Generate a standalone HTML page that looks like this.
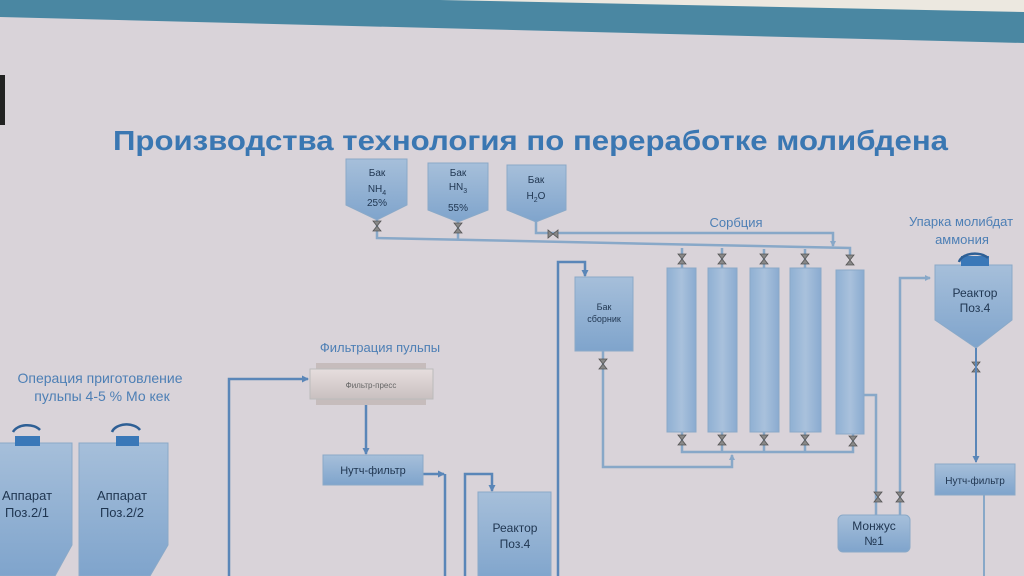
<!DOCTYPE html>
<html><head><meta charset="utf-8"><style>
html,body{margin:0;padding:0;background:#d9d3d9;}
svg{display:block;font-family:"Liberation Sans",sans-serif;}
</style></head><body>
<svg width="1024" height="576" viewBox="0 0 1024 576" xmlns="http://www.w3.org/2000/svg">
<defs>
<linearGradient id="g" x1="0" y1="0" x2="0" y2="1"><stop offset="0" stop-color="#a6bfda"/><stop offset="1" stop-color="#7fa4cc"/></linearGradient>
<linearGradient id="gh" x1="0" y1="0" x2="1" y2="0"><stop offset="0" stop-color="#8fb0d3"/><stop offset="0.5" stop-color="#a9c1dc"/><stop offset="1" stop-color="#8aabd0"/></linearGradient>
<linearGradient id="fp" x1="0" y1="0" x2="0" y2="1"><stop offset="0" stop-color="#e6dede"/><stop offset="1" stop-color="#c9c0c0"/></linearGradient>
<marker id="a" markerUnits="userSpaceOnUse" markerWidth="7" markerHeight="7" refX="6" refY="3.5" orient="auto"><path d="M0,0L7,3.5L0,7z" fill="#5a86b8"/></marker>
<marker id="b" markerUnits="userSpaceOnUse" markerWidth="6" markerHeight="6" refX="5" refY="3" orient="auto"><path d="M0,0L6,3L0,6z" fill="#88a8c8"/></marker>
<g id="v"><path d="M-4,-5L4,-5L-4,5L4,5z" fill="#888" stroke="#555" stroke-width="0.8"/></g>
<g id="vh"><path d="M-5,-4L-5,4L5,-4L5,4z" fill="#888" stroke="#555" stroke-width="0.8"/></g>
</defs>
<rect width="1024" height="576" fill="#d9d3d9"/>
<polygon points="440,0 1024,0 1024,12 440,4" fill="#ece8e0"/>
<polygon points="0,0 440,0 1024,12 1024,43 0,17" fill="#4a87a2"/>
<rect x="0" y="75" width="5" height="50" fill="#222"/>
<text x="113" y="150" font-size="28" font-weight="bold" fill="#3a77b2" textLength="835" lengthAdjust="spacingAndGlyphs">Производства  технология по переработке молибдена</text>

<!-- top tanks -->
<g fill="url(#g)" stroke="#8aa9c8">
<path d="M346,159H407V205L377,220L346,205z"/>
<path d="M428,163H488V210L458,222L428,210z"/>
<path d="M507,165H566V210L536,222L507,210z"/>
</g>
<g font-size="10" fill="#1f3550" text-anchor="middle">
<text x="377" y="176">Бак</text><text x="377" y="192">NH<tspan font-size="7" dy="3">4</tspan></text><text x="377" y="206">25%</text>
<text x="458" y="176">Бак</text><text x="458" y="190">HN<tspan font-size="7" dy="3">3</tspan></text><text x="458" y="211">55%</text>
<text x="536" y="183">Бак</text><text x="536" y="199">H<tspan font-size="7" dy="3">2</tspan><tspan dy="-3">O</tspan></text>
</g>
<g stroke="#88a8c8" stroke-width="2.5" fill="none">
<path d="M377,220V238L850,248V258"/>
<path d="M458,222V240"/>
<path d="M536,222V233H833V246" marker-end="url(#b)"/>
<path d="M682,248V268M722,248V268M764,249V268M805,249V268"/>
<path d="M682,432V452H853V432M722,432V452M764,432V452M805,432V452"/>
<path d="M603,351V467H732V455" marker-end="url(#b)"/>
<path d="M864,395H876V515"/>
<path d="M900,515V278H930" marker-end="url(#b)"/>
</g>
<use href="#v" x="377" y="226"/><use href="#v" x="458" y="228"/><use href="#vh" x="553" y="234"/>
<text x="736" y="227" font-size="13" fill="#4d7fb5" text-anchor="middle">Сорбция</text>
<!-- columns -->
<g fill="url(#gh)" stroke="#8aa9c8">
<rect x="667" y="268" width="29" height="164"/><rect x="708" y="268" width="29" height="164"/>
<rect x="750" y="268" width="29" height="164"/><rect x="790" y="268" width="31" height="164"/>
<rect x="836" y="270" width="28" height="164"/>
</g>
<g><use href="#v" x="682" y="259"/><use href="#v" x="722" y="259"/><use href="#v" x="764" y="259"/><use href="#v" x="805" y="259"/><use href="#v" x="850" y="260"/>
<use href="#v" x="682" y="440"/><use href="#v" x="722" y="440"/><use href="#v" x="764" y="440"/><use href="#v" x="805" y="440"/><use href="#v" x="853" y="441"/>
<use href="#v" x="603" y="364"/><use href="#v" x="878" y="497"/><use href="#v" x="900" y="497"/><use href="#v" x="976" y="367"/></g>
<!-- Бак сборник -->
<rect x="575" y="277" width="58" height="74" fill="url(#g)" stroke="#8aa9c8"/>
<text x="604" y="310" font-size="9" fill="#1f3550" text-anchor="middle">Бак</text>
<text x="604" y="322" font-size="9" fill="#1f3550" text-anchor="middle">сборник</text>
<!-- Монжус -->
<rect x="838" y="515" width="72" height="37" rx="5" fill="url(#g)" stroke="#8aa9c8"/>
<text x="874" y="530" font-size="12" fill="#1f3550" text-anchor="middle">Монжус</text>
<text x="874" y="545" font-size="12" fill="#1f3550" text-anchor="middle">№1</text>
<!-- right reactor -->
<text x="961" y="226" font-size="13" fill="#4d7fb5" text-anchor="middle">Упарка молибдат</text>
<text x="962" y="244" font-size="13" fill="#4d7fb5" text-anchor="middle">аммония</text>
<path d="M935,265H1012V320L976,348L935,320z" fill="url(#g)" stroke="#8aa9c8"/>
<rect x="961" y="256" width="28" height="10" fill="#3a78b8"/>
<path d="M959,262A16,10 0 0 1 988,258" stroke="#2e5f95" stroke-width="2.5" fill="none"/>
<text x="975" y="297" font-size="12" fill="#1f3550" text-anchor="middle">Реактор</text>
<text x="975" y="312" font-size="12" fill="#1f3550" text-anchor="middle">Поз.4</text>
<path d="M976,348V462" stroke="#5a86b8" stroke-width="2" marker-end="url(#a)"/>
<rect x="935" y="464" width="80" height="31" fill="url(#g)" stroke="#8aa9c8"/>
<text x="975" y="484" font-size="10" fill="#1f3550" text-anchor="middle">Нутч-фильтр</text>
<path d="M984,495V576" stroke="#88a8c8" stroke-width="2"/>
<!-- left blue pipes -->
<g stroke="#5a86b8" stroke-width="2.5" fill="none">
<path d="M229,576V379H308" marker-end="url(#a)"/>
<path d="M366,400V454" marker-end="url(#a)"/>
<path d="M423,474H444" marker-end="url(#a)"/><path d="M445,474V576"/>
<path d="M465,576V474H492V491" marker-end="url(#a)"/>
<path d="M558,576V262H585V276" marker-end="url(#a)"/>
</g>
<!-- filter press -->
<text x="380" y="352" font-size="13" fill="#4d7fb5" text-anchor="middle">Фильтрация пульпы</text>
<rect x="316" y="363" width="110" height="42" fill="#c6bcbc"/>
<rect x="310" y="369" width="123" height="30" fill="url(#fp)" stroke="#bbb"/>
<text x="371" y="388" font-size="8" fill="#666" text-anchor="middle">Фильтр-пресс</text>
<rect x="323" y="455" width="100" height="30" fill="url(#g)" stroke="#8aa9c8"/>
<text x="373" y="474" font-size="11" fill="#1f3550" text-anchor="middle">Нутч-фильтр</text>
<rect x="478" y="492" width="73" height="90" fill="url(#g)" stroke="#8aa9c8"/>
<text x="515" y="532" font-size="12" fill="#1f3550" text-anchor="middle">Реактор</text>
<text x="515" y="548" font-size="12" fill="#1f3550" text-anchor="middle">Поз.4</text>
<!-- left apparatus -->
<text x="100" y="383" font-size="14" fill="#4d7fb5" text-anchor="middle">Операция приготовление</text>
<text x="102" y="401" font-size="14" fill="#4d7fb5" text-anchor="middle">пульпы 4-5 % Мо кек</text>
<path d="M-5,443H72V545L55,576H-5z" fill="url(#g)" stroke="#8aa9c8"/>
<path d="M79,443H168V545L150,576H79z" fill="url(#g)" stroke="#8aa9c8"/>
<rect x="15" y="436" width="25" height="10" fill="#3a78b8"/>
<rect x="116" y="436" width="23" height="10" fill="#3a78b8"/>
<path d="M13,432A15,10 0 0 1 40,430" stroke="#2e5f95" stroke-width="2.5" fill="none"/>
<path d="M112,432A15,10 0 0 1 140,430" stroke="#2e5f95" stroke-width="2.5" fill="none"/>
<text x="27" y="500" font-size="13" fill="#1f3550" text-anchor="middle">Аппарат</text>
<text x="27" y="517" font-size="13" fill="#1f3550" text-anchor="middle">Поз.2/1</text>
<text x="122" y="500" font-size="13" fill="#1f3550" text-anchor="middle">Аппарат</text>
<text x="122" y="517" font-size="13" fill="#1f3550" text-anchor="middle">Поз.2/2</text>
</svg>
</body></html>
